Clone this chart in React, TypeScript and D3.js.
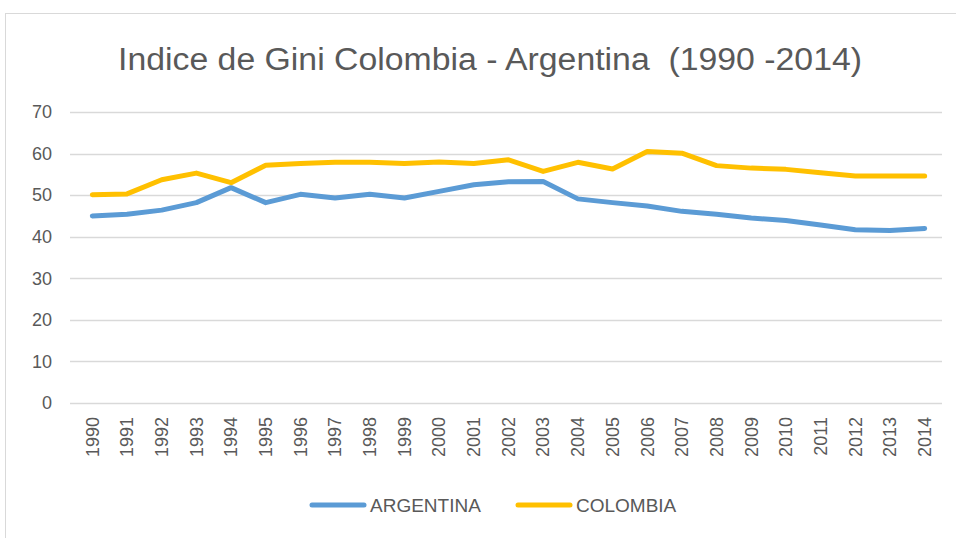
import React, { useEffect, useRef } from 'react';
import * as d3 from 'd3';

const years = ['1990','1991','1992','1993','1994','1995','1996','1997','1998','1999','2000','2001','2002','2003','2004','2005','2006','2007','2008','2009','2010','2011','2012','2013','2014'];
const argentina = [45.0,45.4,46.4,48.2,51.8,48.2,50.2,49.3,50.2,49.3,50.9,52.5,53.2,53.3,49.1,48.2,47.4,46.1,45.4,44.5,43.9,42.8,41.7,41.5,42.0];
const colombia = [50.1,50.3,53.7,55.3,53.0,57.2,57.6,57.9,57.9,57.6,58.0,57.6,58.5,55.7,57.9,56.3,60.5,60.1,57.1,56.5,56.2,55.4,54.6,54.6,54.6];
const yTicks = [0,10,20,30,40,50,60,70];
const seriesNames = ['ARGENTINA', 'COLOMBIA'];
const seriesColors = ['#5B9BD5', '#FFC000'];

const W = 956, H = 538;
const font = '"Liberation Sans", Arial, sans-serif';

export default function App() {
  const ref = useRef<SVGSVGElement>(null);

  useEffect(() => {
    const svg = d3.select(ref.current);
    svg.selectAll('*').remove();

    // chart frame
    svg.append('rect')
      .attr('x', 5.5).attr('y', 13.5)
      .attr('width', 1000).attr('height', 600)
      .attr('fill', '#fff').attr('stroke', '#d9d9d9');

    svg.append('text')
      .attr('x', 490).attr('y', 70)
      .attr('text-anchor', 'middle')
      .attr('font-family', font)
      .attr('font-size', 31)
      .attr('fill', '#595959')
      .style('white-space', 'pre')
      .attr('textLength', 744)
      .attr('lengthAdjust', 'spacingAndGlyphs')
      .text('Indice de Gini Colombia - Argentina  (1990 -2014)');

    const x = d3.scaleBand().domain(years).range([75, 942]);
    const y = d3.scaleLinear().domain([0, 70]).range([403, 112]);

    // gridlines
    svg.append('g').selectAll('line').data(yTicks).enter().append('line')
      .attr('x1', 70).attr('x2', 942)
      .attr('y1', d => Math.round(y(d)) + 0.5).attr('y2', d => Math.round(y(d)) + 0.5)
      .attr('stroke', '#d9d9d9').attr('stroke-width', 1.3);

    svg.append('g').selectAll('text').data(yTicks).enter().append('text')
      .attr('x', 52).attr('y', d => y(d))
      .attr('dy', '0.35em')
      .attr('text-anchor', 'end')
      .attr('font-family', font).attr('font-size', 18)
      .attr('fill', '#595959')
      .text(d => d);

    svg.append('g').selectAll('text').data(years).enter().append('text')
      .attr('transform', d => 'translate(' + (x(d)! + x.bandwidth() / 2) + ',417) rotate(-90)')
      .attr('dy', '0.35em')
      .attr('text-anchor', 'end')
      .attr('font-family', font).attr('font-size', 18)
      .attr('fill', '#595959')
      .text(d => d);

    const line = d3.line<number>()
      .x((d, i) => x(years[i])! + x.bandwidth() / 2)
      .y(d => y(d));

    [argentina, colombia].forEach((s, i) => {
      svg.append('path')
        .datum(s)
        .attr('d', line)
        .attr('fill', 'none')
        .attr('stroke', seriesColors[i])
        .attr('stroke-width', 5)
        .attr('stroke-linejoin', 'round')
        .attr('stroke-linecap', 'round');
    });

    // legend
    const legendX = [312, 518];
    seriesNames.forEach((n, i) => {
      svg.append('line')
        .attr('x1', legendX[i]).attr('x2', legendX[i] + 52)
        .attr('y1', 505).attr('y2', 505)
        .attr('stroke', seriesColors[i]).attr('stroke-width', 5)
        .attr('stroke-linecap', 'round');
      svg.append('text')
        .attr('x', legendX[i] + 58).attr('y', 505)
        .attr('dy', '0.35em')
        .attr('font-family', font).attr('font-size', 19)
        .attr('fill', '#595959')
        .text(n);
    });
  }, []);

  return (
    <svg ref={ref} width={W} height={H} style={{ position: 'absolute', left: 0, top: 0 }} />
  );
}
